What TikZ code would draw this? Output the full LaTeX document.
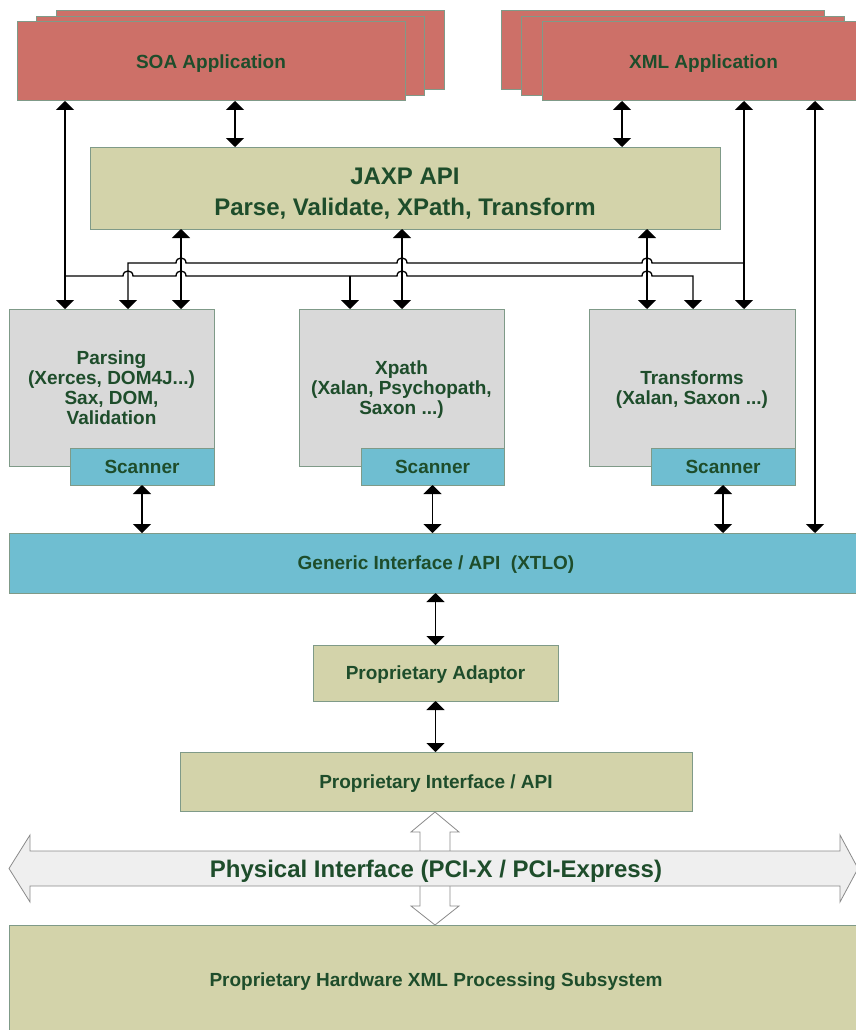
\documentclass[tikz,border=0pt]{standalone}
\usepackage{fontspec}
\setmainfont{Liberation Sans}
\usetikzlibrary{arrows.meta}
\definecolor{redbox}{HTML}{CD7068}
\definecolor{khaki}{HTML}{D3D3AA}
\definecolor{greybox}{HTML}{D9D9D9}
\definecolor{bluebox}{HTML}{6FBED1}
\definecolor{bord}{HTML}{7F9A88}
\definecolor{txt}{HTML}{1E4D2B}
\definecolor{blkline}{HTML}{8A8A8A}
\definecolor{blkfill}{HTML}{EFEFEF}
\begin{document}
\begin{tikzpicture}[x=1pt,y=-1pt,
  box/.style={draw=bord,line width=1pt,inner sep=0pt,outer sep=0pt,align=center,text=txt,
    text depth=0pt,font=\fontsize{19}{20}\selectfont\bfseries},
  redb/.style={box,fill=redbox,minimum height=79pt},
  bigtxt/.style={font=\fontsize{24}{31}\selectfont\bfseries},
  conn/.style={line width=1.3pt,draw=black},
  >={Triangle[width=18pt,length=9pt]},
  blockarrow/.style={draw=blkline,line width=0.8pt,line join=miter}
]
\useasboundingbox (0,0) rectangle (856,1030);
% column coordinates
\foreach \c in {65,128,181,235,350,402,622,647,693,744,815}{\coordinate (c\c) at (\c,0);}
% application stacks
\node[redb,minimum width=388pt] (soa3) at (250,50.5) {};
\node[redb,minimum width=388pt] (soa2) at (230,56.5) {};
\node[redb,minimum width=388pt] (soa) at (211,61.5) {SOA Application};
\node[redb,minimum width=323pt] (xml3) at (662.5,50.5) {};
\node[redb,minimum width=323pt] (xml2) at (682.5,56.5) {};
\node[redb,minimum width=323pt] (xml) at (703.5,61.5) {XML Application};
% JAXP
\node[box,fill=khaki,minimum width=630pt,minimum height=82pt] (jaxp) at (405,188) {};
\node[text=txt,bigtxt,align=center,inner sep=0pt,text depth=0pt] (jaxptxt) at (405,192) {JAXP API\\Parse, Validate, XPath, Transform};
% processors
\node[box,fill=greybox,minimum width=205pt,minimum height=157pt] (pars) at (111.5,387.5) {Parsing\\(Xerces, DOM4J...)\\Sax, DOM,\\Validation};
\node[box,fill=greybox,minimum width=205pt,minimum height=157pt] (xpath) at (401.5,387.5) {Xpath\\(Xalan, Psychopath,\\Saxon ...)};
\node[box,fill=greybox,minimum width=206pt,minimum height=157pt] (trans) at (692,387.5) {Transforms\\(Xalan, Saxon ...)};
\node[box,fill=bluebox,minimum width=144pt,minimum height=37pt] (scan1) at (142,466.5) {Scanner};
\node[box,fill=bluebox,minimum width=143pt,minimum height=37pt] (scan2) at (432.5,466.5) {Scanner};
\node[box,fill=bluebox,minimum width=144pt,minimum height=37pt] (scan3) at (723,466.5) {Scanner};
% generic interface and below
\node[box,fill=bluebox,minimum width=854pt,minimum height=60pt] (gen) at (436,563) {Generic Interface / API\ \ (XTLO)};
\node[box,fill=khaki,minimum width=245pt,minimum height=56pt] (adapt) at (435.5,673) {Proprietary Adaptor};
\node[box,fill=khaki,minimum width=512pt,minimum height=59pt] (propif) at (436,781.5) {Proprietary Interface / API};
\node[box,fill=khaki,minimum width=854pt,minimum height=109pt] (hw) at (436,979.5) {Proprietary Hardware XML Processing Subsystem};
% block arrows
\draw[blockarrow,fill=white] (435,812) -- (459,832) -- (450,832) -- (450,906) -- (459,906) -- (435,925)
   -- (411,906) -- (420,906) -- (420,832) -- (411,832) -- cycle;
\draw[blockarrow,fill=blkfill] (9,868.5) -- (30,835) -- (30,851) -- (840,851) -- (840,835) -- (858,868.5)
   -- (840,902) -- (840,886) -- (30,886) -- (30,902) -- cycle;
\node[text=txt,bigtxt,inner sep=0pt,text depth=0pt] (phys) at (436,868.5) {Physical Interface (PCI-X / PCI-Express)};
% straight connectors
\draw[conn,<->] (soa.south -| c65) -- (pars.north -| c65);
\draw[conn,<->] (soa.south -| c235) -- (jaxp.north -| c235);
\draw[conn,<->] (xml.south -| c622) -- (jaxp.north -| c622);
\draw[conn,<->] (xml.south -| c744) -- (trans.north -| c744);
\draw[conn,<->] (xml.south -| c815) -- (gen.north -| c815);
\draw[conn,<->] (jaxp.south -| c181) -- (pars.north -| c181);
\draw[conn,<->] (jaxp.south -| c402) -- (xpath.north -| c402);
\draw[conn,<->] (jaxp.south -| c647) -- (trans.north -| c647);
\draw[conn,<->] (scan1.south) -- (gen.north -| scan1.south);
\draw[conn,<->] (scan2.south) -- (gen.north -| scan2.south);
\draw[conn,<->] (scan3.south) -- (gen.north -| scan3.south);
\draw[conn,<->] (gen.south -| adapt.north) -- (adapt.north);
\draw[conn,<->] (adapt.south) -- (propif.north -| adapt.south);
% bus lines with hops
\coordinate (jL) at (65,276);
\coordinate (jM) at (350,276);
\coordinate (jR) at (744,263);
\draw[conn,->] (jL) -- (123,276) .. controls (123,269.3) and (133,269.3) .. (133,276)
  -- (176,276) .. controls (176,269.3) and (186,269.3) .. (186,276)
  -- (397,276) .. controls (397,269.3) and (407,269.3) .. (407,276)
  -- (642,276) .. controls (642,269.3) and (652,269.3) .. (652,276)
  -- (693,276) -- (trans.north -| c693);
\draw[conn,->] (jM) -- (xpath.north -| c350);
\draw[conn,->] (jR) -- (652,263) .. controls (652,256.3) and (642,256.3) .. (642,263)
  -- (407,263) .. controls (407,256.3) and (397,256.3) .. (397,263)
  -- (186,263) .. controls (186,256.3) and (176,256.3) .. (176,263)
  -- (128,263) -- (pars.north -| c128);
\end{tikzpicture}
\end{document}
